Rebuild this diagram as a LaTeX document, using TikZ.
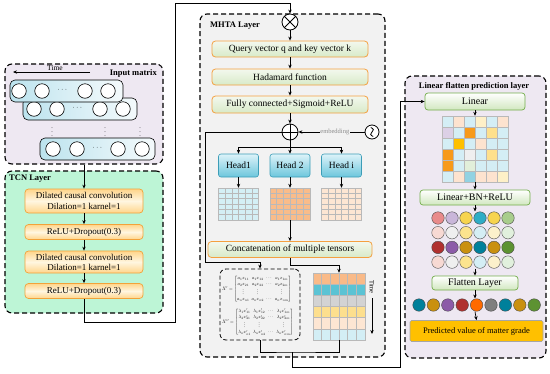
\documentclass[tikz,border=0pt]{standalone}
\usepackage{fontspec}
\setmainfont{Liberation Serif}
\usepackage{amsmath}
\usetikzlibrary{arrows.meta}
\definecolor{bgIn}{HTML}{EEE8F2}
\definecolor{bgTcn}{HTML}{BDF5D6}
\definecolor{bgMh}{HTML}{F2F2F2}
\definecolor{bgLin}{HTML}{EEE8F2}
\definecolor{rowL}{HTML}{BCE3EE}
\definecolor{rowR}{HTML}{F4FAFC}
\definecolor{tcnA}{HTML}{FFD58A}
\definecolor{tcnB}{HTML}{FFF6E0}
\definecolor{tcnBd}{HTML}{F2A23A}
\definecolor{grA}{HTML}{F3F8EE}
\definecolor{grB}{HTML}{D8EAC8}
\definecolor{grBd}{HTML}{F4A040}
\definecolor{hdA}{HTML}{DDF3F9}
\definecolor{hdB}{HTML}{6CC6DC}
\definecolor{hdBd}{HTML}{3C9DB7}
\definecolor{gOne}{HTML}{D4EFF5}
\definecolor{gTwo}{HTML}{F9BC8A}
\definecolor{gThr}{HTML}{FDE6D3}
\definecolor{lnA}{HTML}{FFFFFF}
\definecolor{lnB}{HTML}{D1E7BF}
\definecolor{lnBd}{HTML}{74AE4C}
\definecolor{pvF}{HTML}{FFC000}
\definecolor{cLc}{HTML}{D4EEF5}
\definecolor{cPe}{HTML}{FDE3CF}
\definecolor{cLy}{HTML}{FEF0C7}
\definecolor{cLav}{HTML}{DCD0E6}
\definecolor{cOr}{HTML}{F79A1A}
\definecolor{cYl}{HTML}{FEE08C}
\definecolor{cGold}{HTML}{FFC000}
\definecolor{cLg}{HTML}{EFEFEF}
\definecolor{cLgr}{HTML}{E2EFDA}
\definecolor{cCy}{HTML}{92D2E2}
\definecolor{kSal}{HTML}{E98A8A}
\definecolor{kLav}{HTML}{C9B6D9}
\definecolor{kYel}{HTML}{F7D44E}
\definecolor{kTeal}{HTML}{2EADC6}
\definecolor{kGrn}{HTML}{A8CD8C}
\definecolor{kPk}{HTML}{F7D9D3}
\definecolor{kWh}{HTML}{EFEFEF}
\definecolor{kLy}{HTML}{FCE48E}
\definecolor{kLc}{HTML}{D4EEF5}
\definecolor{kCr}{HTML}{FCF1CB}
\definecolor{kLg}{HTML}{E1F0DD}
\definecolor{kRed}{HTML}{B0302F}
\definecolor{kPur}{HTML}{8C5BA8}
\definecolor{kGold}{HTML}{C9900F}
\definecolor{kDt}{HTML}{00809B}
\definecolor{kDg}{HTML}{5D9232}
\definecolor{kOr}{HTML}{FF6A00}
\definecolor{kGr}{HTML}{7F7F7F}
\definecolor{tR1}{HTML}{F9BA88}
\definecolor{tR2}{HTML}{5BC3D4}
\definecolor{tR3}{HTML}{D3D3D3}
\definecolor{tR4}{HTML}{FDDF8E}
\definecolor{tR5}{HTML}{FDE6D3}
\definecolor{tR6}{HTML}{D3EEF5}
\newcommand{\mtxsmall}[1]{\scalebox{0.47}{\setlength{\arraycolsep}{2.5pt}\renewcommand{\arraystretch}{1.1}$#1$}}
\begin{document}
\begin{tikzpicture}[x=1pt,y=-1pt,
 >={Stealth[length=4pt,width=3.4pt]},
 conn/.style={line width=0.7pt},
 layer/.style={draw, line width=1.1pt, dash pattern=on 5pt off 3pt, rounded corners=7pt, inner sep=0pt},
 ttl/.style={font=\fontsize{8.5}{9}\selectfont\bfseries, inner sep=0pt},
 tcnb/.style={draw=tcnBd, line width=0.7pt, rounded corners=3.5pt, top color=tcnA, bottom color=tcnA, middle color=tcnB, minimum width=118, inner sep=0pt, align=center, font=\fontsize{9}{10}\selectfont},
 mhb/.style={draw=grBd, line width=0.8pt, rounded corners=3.5pt, top color=grA, bottom color=grB, inner sep=0pt, align=center, font=\fontsize{9.5}{10}\selectfont},
 headb/.style={draw=hdBd, line width=0.6pt, rounded corners=2.5pt, top color=hdA, bottom color=hdB, minimum width=40, minimum height=23, inner sep=0pt, font=\fontsize{9.5}{10}\selectfont},
 linb/.style={draw=lnBd, line width=0.7pt, rounded corners=3pt, top color=lnA, bottom color=lnB, inner sep=0pt, font=\fontsize{10}{11}\selectfont},
 rowr/.style={draw, line width=0.6pt, rounded corners=5pt, left color=rowL, right color=rowR},
 inc/.style={circle, draw, line width=0.6pt, fill=white, minimum size=14.5, inner sep=0pt},
 dotc/.style={circle, draw=black!70, line width=0.4pt, minimum size=12.5, inner sep=0pt},
 gridln/.style={draw=gray!55, line width=0.4pt},
 smallt/.style={font=\fontsize{7}{8}\selectfont, inner sep=0pt}
]
\useasboundingbox (0,0) rectangle (550,373);

% ---------------- Input matrix ----------------
\node[layer, fill=bgIn, minimum width=158, minimum height=100] (inL) at (84,114) {};
\node[ttl, anchor=east] (tin) at (157,73) {Input matrix};
\coordinate (tA) at (90,72);
\coordinate (tB) at (13,72);
\draw[conn,->] (tA) -- (tB);
\node[smallt, anchor=base, font=\fontsize{7.5}{8}\selectfont] (time1) at (55,70) {Time};

\draw[rowr] (40,138) rectangle (155,160);
\foreach \x [count=\i] in {53,77,118,142} \node[inc] (rc\i) at (\x,149) {};
\node[smallt] (rcd) at (98,148) {$\cdots$};
\draw[rowr] (23,98) rectangle (137,120);
\foreach \x [count=\i] in {34,57,100,123} \node[inc] (rb\i) at (\x,109) {};
\node[smallt] (rbd) at (78,108) {$\cdots$};
\draw[rowr] (10,80) rectangle (123,102);
\foreach \x [count=\i] in {19,42,85,108} \node[inc] (ra\i) at (\x,91) {};
\node[smallt] (rad) at (63,90) {$\cdots$};
\foreach \x [count=\i] in {52,105,140} \node[smallt, font=\fontsize{6}{6}\selectfont] (vd\i) at (\x,129) {$\vdots$};

% ---------------- TCN ----------------
\node[layer, fill=bgTcn, minimum width=158, minimum height=142] (tcnL) at (84,242) {};
\node[ttl, anchor=west] (ttcn) at (9,179) {TCN Layer};
\node[tcnb, minimum height=24] (c1) at (84,201) {Dilated causal convolution\\[1pt]Dilation=1 karnel=1};
\node[tcnb, minimum height=15] (c2) at (84,232) {ReLU+Dropout(0.3)};
\node[tcnb, minimum height=22] (c3) at (84,262) {Dilated causal convolution\\Dilation=1 karnel=1};
\node[tcnb, minimum height=15] (c4) at (84,291) {ReLU+Dropout(0.3)};
\draw[conn,->] (inL.south) -- (c1.north);
\draw[conn,->] (c1) -- (c2);
\draw[conn,->] (c2) -- (c3);
\draw[conn,->] (c3) -- (c4);

% ---------------- MHTA ----------------
\node[layer, fill=bgMh, minimum width=185, minimum height=343] (mhL) at (292.5,185.5) {};
\node[ttl, anchor=west] (tmh) at (210,26) {MHTA Layer};
\node[circle, draw, line width=0.8pt, fill=white, minimum size=16, inner sep=0pt] (ot) at (290,22) {};
\draw[line width=0.8pt] (ot.north west) -- (ot.south east) (ot.north east) -- (ot.south west);
\coordinate (k1) at (175,322);
\coordinate (k2) at (175,3);
\draw[conn,->] (c4.south) |- (k1) -- (k2) -| (ot.north);

\node[mhb, minimum width=156, minimum height=16] (q) at (290,49) {Query vector q and key vector k};
\node[mhb, minimum width=156, minimum height=16] (hd) at (290,77) {Hadamard function};
\node[mhb, minimum width=156, minimum height=17] (fc) at (290,104.5) {Fully connected+Sigmoid+ReLU};
\draw[conn,->] (ot.south) -- (q.north);
\draw[conn,->] (q) -- (hd);
\draw[conn,->] (hd) -- (fc);

\node[circle, draw, line width=0.8pt, fill=white, minimum size=16, inner sep=0pt] (op) at (290,132) {};
\draw[line width=0.8pt] (op.north) -- (op.south) (op.west) -- (op.east);
\draw[conn,->] (fc.south) -- (op.north);
\node[circle, draw, line width=0.8pt, fill=white, minimum size=14, inner sep=0pt] (emb) at (372,132) {};
\draw[line width=0.8pt] (370.8,127.5) .. controls (374,128.8) and (374,130.6) .. (372,132) .. controls (370,133.4) and (370,135.2) .. (373.2,136.5);
\draw[conn,->] (emb.west) -- node[pos=0.45, fill=bgMh, inner sep=0.6pt, font=\fontsize{6.5}{6.5}\selectfont, text=gray!90] (embl) {embedding} (op.east);

\node[headb] (h1) at (238.5,165.5) {Head1};
\node[headb] (h2) at (290,165.5) {Head 2};
\node[headb] (hi) at (341.5,165.5) {Head i};
\coordinate (br) at (290,147);
\draw[conn] (op.south) -- (br);
\draw[conn,->] (br) -| (h1.north);
\draw[conn,->] (br) -| (hi.north);
\draw[conn,->] (br) -- (h2.north);

\foreach \nm/\cx/\col in {g1/238.5/gOne, g2/290/gTwo, gi/341.5/gThr}{
  \node[draw=gray!55, line width=0.4pt, fill=\col, minimum width=40, minimum height=32, inner sep=0pt] (\nm) at (\cx,204) {};
  \foreach \k in {1,...,5}{
    \draw[gridln] ({\cx-20+\k*40/6},188) -- ({\cx-20+\k*40/6},220);
    \draw[gridln] ({\cx-20},{188+\k*32/6}) -- ({\cx+20},{188+\k*32/6});
  }
}
\draw[conn,->] (h1.south) -- (g1.north);
\draw[conn,->] (h2.south) -- (g2.north);
\draw[conn,->] (hi.south) -- (gi.north);

\node[mhb, minimum width=164, minimum height=16] (cc) at (290,249.5) {Concatenation of multiple tensors};
\draw[conn,->] (g2.south) -- (cc.north);

% matrix box
\node[draw, line width=0.8pt, dash pattern=on 4pt off 2.5pt, rounded corners=6pt, minimum width=80, minimum height=71, inner sep=0pt] (mb) at (260,304.5) {};
\node[anchor=west, inner sep=0pt] (mx1) at (222,289) {\mtxsmall{X'=\begin{bmatrix} a_1x_{11} & a_1x_{12} & \cdots & a_1x_{1m}\\ a_2x_{21} & a_2x_{22} & \cdots & a_2x_{2m}\\ \vdots & \vdots & & \vdots\\ a_nx_{n1} & a_nx_{n2} & \cdots & a_nx_{nm}\end{bmatrix}}};
\node[anchor=west, inner sep=0pt] (mx2) at (222,322) {\mtxsmall{X''=\begin{bmatrix} \lambda_1x'_{11} & \lambda_1x'_{12} & \cdots & \lambda_1x'_{1m}\\ \lambda_2x'_{21} & \lambda_2x'_{22} & \cdots & \lambda_2x'_{2m}\\ \vdots & \vdots & & \vdots\\ \lambda_nx'_{n1} & \lambda_nx'_{n2} & \cdots & \lambda_nx'_{nm}\end{bmatrix}}};

% time grid
\node[draw=gray!55, line width=0.4pt, minimum width=52, minimum height=67, inner sep=0pt] (tg) at (339,306.5) {};
\foreach \col [count=\i from 0] in {tR1,tR2,tR3,tR4,tR5,tR6}{
  \fill[\col] (313,{273+\i*67/6}) rectangle (365,{273+(\i+1)*67/6});
}
\foreach \k in {1,...,5}{
  \draw[gridln] ({313+\k*52/6},273) -- ({313+\k*52/6},340);
  \draw[gridln] (313,{273+\k*67/6}) -- (365,{273+\k*67/6});
}
\draw[gray!55, line width=0.4pt] (313,273) rectangle (365,340);
\node[smallt, rotate=-90, font=\fontsize{6.5}{7}\selectfont] (tlab) at (372,287) {Time};
\coordinate (ta) at (372,298);
\coordinate (tb) at (372,334);
\draw[conn,->] (ta) -- (tb);

\coordinate (cj) at (290,265);
\draw[conn,->] (cc.south) -- (cj) -| (tg.north);
\coordinate (r1) at (205,132);
\coordinate (r2) at (205,262);
\draw[conn,->] (op.west) -- (r1) -- (r2) -| (mb.north);

% bottom junction
\coordinate (j1) at (292,352);
\coordinate (j2) at (292,367);
\coordinate (j3) at (400,367);
\draw[conn] (mb.south) |- (j1) -| (tg.south);

% ---------------- Linear flatten ----------------
\node[layer, fill=bgLin, minimum width=141, minimum height=282] (linL) at (475.5,217) {};
\node[ttl] (tlin) at (474,86) {Linear flatten prediction layer};
\node[linb, minimum width=100, minimum height=17] (lin) at (475,101.5) {Linear};
\draw[conn,->] (j1) -- (j2) -- (j3) |- (lin.west);

\node[minimum width=66, minimum height=66, inner sep=0pt] (mg) at (475,149) {};
\foreach \cl [count=\i from 0] in {cLc,cPe,cLc,cLy,cLc,cPe, cLav,cLc,cOr,cLc,cYl,cLc, cLc,cGold,cLc,cPe,cLc,cLc, cOr,cLc,cLg,cLc,cYl,cLc, cOr,cLc,cLgr,cLc,cLc,cLc, cLc,cPe,cCy,cPe,cPe,cLy}{
  \pgfmathsetmacro\cx{442+mod(\i,6)*11}
  \pgfmathsetmacro\cy{116+floor(\i/6)*11}
  \fill[\cl] (\cx,\cy) rectangle ++(11,11);
}
\foreach \k in {1,...,5}{
  \draw[gridln] ({442+\k*11},116) -- ({442+\k*11},182);
  \draw[gridln] (442,{116+\k*11}) -- (508,{116+\k*11});
}
\draw[gray!55, line width=0.4pt] (442,116) rectangle (508,182);
\draw[conn,->] (lin.south) -- (mg.north);

\node[linb, minimum width=110, minimum height=15] (lbr) at (475,197.5) {Linear+BN+ReLU};
\draw[conn,->] (mg.south) -- (lbr.north);

\foreach \cl [count=\i from 0] in {kSal,kLav,kYel,kTeal,kYel,kGrn, kPk,kWh,kLy,kLc,kCr,kLg, kRed,kPur,kGold,kDt,kGold,kDg, kPk,kWh,kLy,kLc,kCr,kLg}{
  \pgfmathsetmacro\cx{438+mod(\i,6)*14}
  \pgfmathsetmacro\cy{218+floor(\i/6)*14.7}
  \node[dotc, fill=\cl] (dc\i) at (\cx,\cy) {};
}
\coordinate (ct) at (475,211.5);
\coordinate (cb) at (475,268.5);
\draw[conn,->] (lbr.south) -- (ct);

\node[linb, minimum width=86, minimum height=14] (fl) at (475,283) {Flatten Layer};
\draw[conn,->] (cb) -- (fl.north);

\foreach \cl [count=\i from 0] in {kDt,kGold,kPur,kRed,kOr,kGr,kDt,kGold,kDg}{
  \node[dotc, fill=\cl] (fc\i) at ({419+\i*14.4},305) {};
}
\coordinate (ft) at (475,298.5);
\coordinate (fb) at (475,311.5);
\draw[conn,->] (fl.south) -- (ft);

\node[draw=gray!70, line width=0.6pt, fill=pvF, rounded corners=1.5pt, minimum width=133, minimum height=21, inner sep=0pt, font=\fontsize{8.5}{9}\selectfont] (pv) at (476.5,331) {Predicted value of matter grade};
\draw[conn,->] (fb) -- (pv.north);
\end{tikzpicture}
\end{document}
